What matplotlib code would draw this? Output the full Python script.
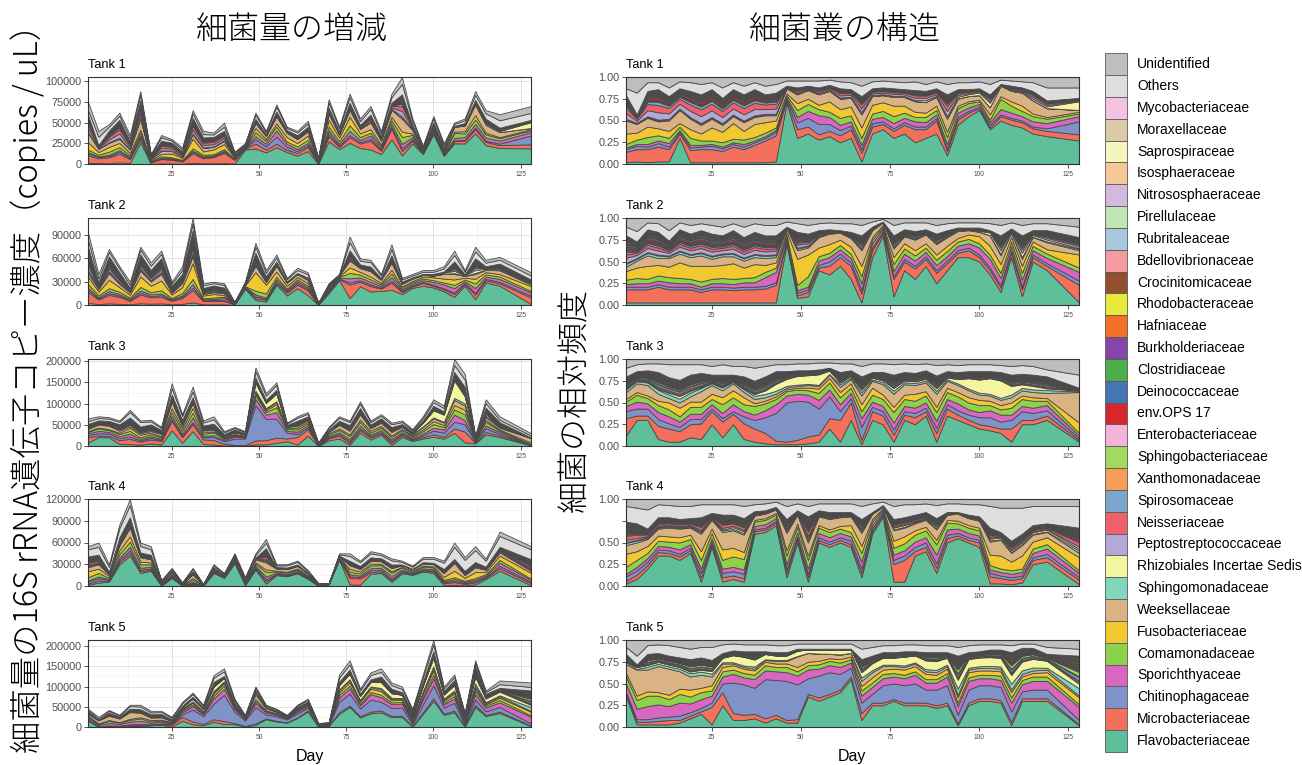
import numpy as np
import matplotlib
matplotlib.use('Agg')
import matplotlib.pyplot as plt
from matplotlib.patches import Rectangle
from matplotlib.ticker import MultipleLocator, FixedLocator

plt.rcParams['font.family'] = ['Liberation Sans', 'DejaVu Sans']
JP = ['Noto Sans CJK JP', 'DejaVu Sans']

# legend order, top to bottom (stacking is the reverse)
FAMILIES = ['Unidentified', 'Others', 'Mycobacteriaceae', 'Moraxellaceae', 'Saprospiraceae',
            'Isosphaeraceae', 'Nitrososphaeraceae', 'Pirellulaceae', 'Rubritaleaceae',
            'Bdellovibrionaceae', 'Crocinitomicaceae', 'Rhodobacteraceae', 'Hafniaceae',
            'Burkholderiaceae', 'Clostridiaceae', 'Deinococcaceae', 'env.OPS 17',
            'Enterobacteriaceae', 'Sphingobacteriaceae', 'Xanthomonadaceae', 'Spirosomaceae',
            'Neisseriaceae', 'Peptostreptococcaceae', 'Rhizobiales Incertae Sedis',
            'Sphingomonadaceae', 'Weeksellaceae', 'Fusobacteriaceae', 'Comamonadaceae',
            'Sporichthyaceae', 'Chitinophagaceae', 'Microbacteriaceae', 'Flavobacteriaceae']
COLORS = ['#BEBEBE', '#DEDEDE', '#F5C2E3', '#DDCBA8', '#F5F6BE', '#F5C895', '#D3B9DE',
          '#C0E6B6', '#A8C8DD', '#F49BA2', '#944F2E', '#E8E83B', '#F56F26', '#8546A8',
          '#4BAE4A', '#4575B4', '#D8262D', '#F5B3D9', '#A3D95E', '#F59C56', '#7BA7CC',
          '#F0606A', '#B3A8D6', '#F4F59E', '#82D6BC', '#D9B384', '#F2C830', '#8ED14B',
          '#D966C0', '#8093C8', '#F2705C', '#5EBF9A']

TANKS = ['Tank 1', 'Tank 2', 'Tank 3', 'Tank 4', 'Tank 5']
DAYS = [1, 4, 7, 10, 13, 16, 19, 22, 25, 28, 31, 34, 37, 40, 43, 46, 49, 52, 55, 58, 61,
        64, 67, 70, 73, 76, 79, 82, 85, 88, 91, 94, 97, 100, 103, 106, 109, 112, 115, 119, 128]

# total 16S copies / uL (thousands), one row per tank
TOTAL = [
    [75, 40, 48, 62, 35, 88, 12, 35, 30, 20, 65, 40, 38, 50, 15, 25, 62, 40, 72, 45, 40, 52, 8, 78, 45, 85, 55, 70, 40, 85, 105, 55, 22, 58, 25, 50, 55, 88, 65, 60, 70],
    [93, 40, 72, 50, 30, 75, 55, 70, 30, 50, 112, 28, 30, 28, 4, 30, 80, 45, 65, 35, 48, 42, 3, 28, 40, 88, 60, 58, 40, 78, 35, 40, 45, 45, 50, 70, 45, 75, 58, 62, 42],
    [65, 70, 68, 60, 85, 60, 62, 45, 148, 75, 140, 60, 70, 35, 45, 35, 185, 125, 150, 55, 70, 80, 8, 45, 70, 60, 105, 60, 75, 55, 60, 40, 70, 110, 95, 205, 170, 25, 110, 70, 30],
    [55, 60, 30, 85, 120, 60, 55, 8, 25, 5, 25, 3, 30, 18, 45, 12, 45, 65, 30, 30, 35, 22, 4, 4, 45, 45, 35, 48, 45, 38, 35, 28, 40, 40, 35, 60, 40, 55, 38, 75, 55],
    [45, 25, 42, 30, 55, 55, 40, 40, 25, 62, 85, 55, 128, 145, 70, 30, 100, 55, 45, 30, 55, 70, 10, 12, 130, 165, 95, 135, 145, 110, 100, 45, 130, 215, 100, 130, 35, 165, 90, 115, 110],
]

# relative abundance (%) of the main families, one row per tank
FLAVO = [
    [2, 3, 2, 3, 3, 30, 2, 2, 2, 2, 2, 2, 2, 2, 3, 70, 30, 35, 28, 32, 25, 30, 3, 35, 40, 30, 35, 25, 30, 35, 10, 45, 55, 62, 40, 50, 45, 42, 35, 32, 27],
    [3, 3, 3, 3, 3, 3, 3, 3, 3, 3, 3, 3, 3, 3, 3, 70, 8, 10, 40, 35, 45, 30, 3, 55, 80, 10, 40, 30, 45, 25, 40, 55, 55, 50, 35, 15, 55, 10, 50, 40, 3],
    [12, 30, 30, 8, 5, 5, 10, 8, 25, 10, 25, 8, 5, 3, 2, 2, 2, 3, 5, 20, 5, 30, 2, 30, 25, 5, 30, 25, 35, 5, 35, 30, 25, 20, 18, 15, 5, 25, 25, 30, 5],
    [3, 8, 20, 35, 35, 30, 38, 5, 45, 5, 8, 5, 60, 62, 70, 10, 50, 5, 50, 45, 50, 45, 10, 60, 80, 5, 5, 35, 40, 15, 50, 55, 50, 45, 3, 3, 2, 4, 25, 28, 2],
    [35, 3, 3, 3, 3, 5, 10, 15, 3, 25, 8, 8, 10, 5, 10, 5, 5, 35, 30, 35, 40, 55, 8, 25, 25, 30, 25, 25, 25, 22, 25, 2, 25, 30, 30, 28, 2, 30, 30, 30, 2],
]
MICRO = [
    [12, 14, 15, 17, 14, 5, 14, 15, 15, 13, 18, 15, 20, 25, 30, 3, 10, 8, 6, 6, 8, 10, 10, 8, 6, 8, 10, 15, 10, 15, 5, 6, 4, 2, 2, 5, 6, 6, 6, 6, 7],
    [15, 15, 15, 18, 15, 15, 15, 12, 15, 15, 14, 15, 15, 16, 20, 3, 3, 5, 3, 10, 10, 15, 10, 8, 3, 20, 10, 12, 8, 12, 8, 5, 8, 5, 5, 5, 5, 8, 5, 5, 20],
    [20, 5, 5, 15, 15, 12, 15, 18, 15, 18, 12, 18, 15, 12, 4, 3, 5, 8, 8, 12, 25, 20, 5, 10, 10, 8, 6, 8, 5, 10, 8, 6, 5, 5, 5, 5, 15, 5, 5, 5, 2],
    [3, 5, 4, 4, 3, 4, 3, 5, 3, 5, 4, 4, 3, 3, 3, 5, 4, 5, 3, 3, 3, 3, 5, 3, 2, 20, 25, 5, 5, 6, 5, 3, 3, 5, 8, 6, 5, 5, 5, 5, 5],
    [3, 3, 3, 4, 5, 3, 3, 3, 20, 15, 8, 6, 5, 5, 4, 3, 4, 3, 4, 3, 3, 3, 8, 3, 3, 2, 3, 3, 3, 3, 3, 2, 3, 3, 3, 3, 4, 3, 3, 3, 1],
]
CHITINO = [
    [3, 4, 3, 4, 3, 2, 3, 3, 4, 3, 3, 3, 3, 3, 4, 2, 8, 10, 12, 8, 6, 4, 4, 4, 3, 3, 3, 3, 3, 3, 3, 3, 2, 2, 3, 2, 2, 2, 2, 3, 15],
    [3, 3, 3, 3, 3, 3, 3, 3, 3, 3, 3, 3, 3, 3, 3, 2, 3, 3, 3, 5, 4, 4, 4, 3, 2, 3, 3, 3, 3, 3, 3, 3, 3, 3, 3, 3, 3, 3, 3, 3, 5],
    [8, 8, 8, 8, 6, 5, 6, 5, 3, 4, 3, 8, 10, 18, 32, 45, 45, 40, 30, 25, 10, 5, 15, 5, 5, 6, 4, 5, 4, 6, 5, 5, 6, 8, 10, 8, 10, 10, 8, 6, 2],
    [5, 5, 4, 3, 3, 3, 3, 5, 3, 5, 5, 5, 2, 2, 2, 4, 3, 4, 3, 3, 3, 4, 5, 3, 2, 5, 5, 5, 5, 5, 4, 3, 3, 3, 4, 3, 3, 3, 3, 4, 3],
    [2, 3, 3, 4, 4, 5, 4, 4, 5, 10, 35, 35, 30, 45, 40, 45, 40, 18, 25, 25, 18, 10, 12, 10, 20, 18, 20, 22, 15, 18, 20, 10, 15, 15, 15, 15, 12, 8, 10, 10, 5],
]
SPORICH = [
    [2, 2, 3, 3, 4, 2, 3, 2, 2, 2, 2, 3, 2, 2, 2, 2, 6, 8, 10, 8, 6, 5, 5, 5, 5, 6, 5, 6, 5, 4, 5, 5, 4, 3, 3, 6, 6, 5, 6, 6, 6],
    [3, 4, 4, 4, 5, 4, 4, 3, 4, 4, 4, 5, 5, 10, 12, 3, 3, 3, 5, 5, 5, 5, 8, 5, 3, 6, 6, 6, 5, 6, 5, 5, 5, 8, 10, 8, 5, 8, 5, 6, 10],
    [6, 8, 6, 8, 8, 6, 6, 6, 5, 6, 8, 6, 6, 8, 10, 8, 8, 8, 10, 8, 8, 6, 10, 6, 6, 8, 6, 6, 6, 8, 6, 8, 6, 6, 8, 8, 6, 6, 6, 6, 3],
    [3, 4, 4, 4, 4, 5, 4, 5, 4, 5, 5, 5, 4, 4, 3, 6, 5, 6, 5, 5, 5, 5, 8, 4, 2, 6, 6, 6, 6, 10, 6, 5, 5, 5, 4, 4, 4, 4, 5, 6, 5],
    [10, 12, 15, 15, 12, 15, 10, 10, 8, 8, 10, 8, 10, 10, 10, 10, 10, 10, 8, 8, 8, 6, 8, 8, 8, 8, 8, 10, 8, 8, 10, 10, 10, 8, 8, 8, 10, 8, 10, 10, 15],
]
COMAMON = [
    [4, 5, 8, 6, 6, 4, 8, 5, 4, 5, 4, 5, 4, 4, 3, 2, 8, 8, 7, 6, 8, 7, 8, 6, 7, 8, 6, 5, 6, 5, 8, 5, 5, 3, 3, 12, 8, 6, 6, 5, 3],
    [5, 6, 5, 6, 6, 6, 5, 6, 5, 6, 6, 5, 6, 6, 5, 3, 6, 12, 5, 5, 5, 5, 8, 4, 2, 8, 6, 6, 5, 6, 6, 5, 5, 5, 5, 6, 5, 8, 5, 5, 5],
    [5, 8, 6, 8, 8, 6, 8, 8, 6, 10, 8, 8, 10, 8, 6, 5, 5, 5, 8, 8, 8, 6, 8, 8, 8, 12, 8, 8, 8, 10, 8, 8, 8, 8, 6, 6, 8, 8, 8, 5, 3],
    [8, 8, 6, 6, 6, 8, 6, 10, 6, 10, 12, 12, 5, 5, 4, 10, 6, 10, 6, 6, 5, 5, 10, 4, 2, 8, 8, 8, 8, 12, 8, 6, 6, 6, 5, 4, 4, 4, 5, 5, 3],
    [8, 10, 12, 10, 8, 10, 8, 8, 6, 6, 5, 5, 5, 6, 5, 6, 5, 5, 5, 5, 5, 4, 6, 5, 5, 4, 4, 4, 4, 4, 4, 4, 4, 4, 4, 5, 6, 5, 5, 5, 3],
]
FUSO = [
    [12, 8, 12, 8, 8, 4, 10, 8, 15, 12, 18, 10, 15, 12, 8, 2, 8, 6, 5, 12, 10, 10, 12, 10, 10, 12, 8, 6, 5, 5, 6, 3, 2, 2, 6, 3, 5, 6, 3, 2, 2],
    [10, 12, 15, 12, 12, 18, 15, 18, 15, 15, 18, 12, 15, 8, 6, 3, 30, 25, 10, 10, 6, 8, 12, 3, 2, 8, 6, 6, 5, 6, 6, 4, 5, 8, 10, 10, 5, 8, 5, 5, 15],
    [3, 3, 3, 5, 8, 10, 6, 6, 6, 8, 8, 8, 3, 3, 3, 2, 2, 3, 5, 5, 6, 5, 8, 8, 5, 6, 5, 8, 5, 6, 5, 5, 6, 6, 5, 5, 6, 4, 4, 3, 12],
    [15, 10, 8, 6, 6, 6, 5, 10, 5, 12, 10, 8, 2, 2, 2, 6, 4, 5, 3, 3, 3, 8, 8, 3, 1, 8, 8, 5, 4, 5, 3, 3, 3, 3, 12, 15, 10, 15, 8, 8, 15],
    [4, 5, 5, 4, 5, 6, 8, 5, 6, 5, 5, 5, 5, 4, 4, 4, 5, 4, 4, 3, 4, 3, 5, 6, 5, 5, 6, 6, 6, 5, 5, 6, 6, 5, 5, 5, 6, 4, 4, 5, 8],
]
WEEKSEL = [
    [15, 10, 10, 8, 12, 15, 12, 10, 10, 8, 8, 10, 8, 8, 6, 6, 10, 10, 12, 12, 12, 10, 15, 10, 8, 10, 10, 12, 12, 10, 15, 8, 6, 5, 8, 12, 12, 15, 15, 10, 2],
    [5, 8, 12, 8, 10, 10, 10, 12, 8, 10, 8, 8, 8, 8, 6, 4, 10, 8, 12, 12, 8, 10, 18, 8, 3, 10, 8, 12, 10, 12, 10, 8, 5, 5, 12, 10, 5, 8, 5, 8, 5],
    [8, 10, 12, 8, 5, 6, 6, 12, 10, 8, 8, 6, 5, 4, 3, 2, 2, 3, 3, 4, 6, 5, 10, 8, 12, 15, 12, 10, 10, 15, 8, 8, 8, 6, 6, 6, 6, 6, 6, 6, 35],
    [10, 10, 8, 8, 10, 10, 8, 20, 10, 20, 20, 20, 5, 5, 4, 20, 10, 15, 10, 12, 10, 10, 15, 6, 2, 12, 10, 8, 8, 12, 6, 8, 8, 8, 15, 18, 10, 12, 8, 6, 5],
    [10, 30, 25, 30, 30, 20, 15, 15, 10, 4, 2, 2, 2, 2, 3, 3, 12, 10, 8, 5, 5, 4, 6, 6, 4, 3, 3, 3, 3, 3, 3, 3, 3, 3, 3, 3, 3, 3, 3, 3, 2],
]
RHIZO = [
    [1, 1, 1, 1, 1, 1, 1, 1, 1, 1, 1, 1, 1, 1, 1, 1, 1, 1, 1, 1, 1, 1, 2, 1, 1, 1, 1, 1, 2, 1, 2, 2, 2, 3, 5, 1, 1, 1, 2, 2, 10],
    [1, 1, 1, 1, 1, 1, 1, 1, 1, 1, 1, 1, 1, 1, 1, 1, 1, 1, 1, 1, 1, 1, 1, 1, 1, 1, 1, 1, 1, 1, 1, 1, 1, 1, 3, 4, 2, 5, 2, 2, 1],
    [1, 1, 1, 1, 2, 3, 2, 1, 1, 1, 1, 1, 2, 4, 8, 8, 10, 10, 12, 4, 2, 2, 3, 2, 2, 3, 2, 2, 2, 3, 2, 5, 12, 15, 18, 20, 10, 4, 4, 2, 1],
    [1, 1, 1, 1, 1, 1, 1, 1, 1, 1, 2, 2, 1, 1, 1, 2, 1, 2, 1, 1, 1, 1, 2, 1, 1, 2, 2, 1, 1, 2, 1, 1, 1, 1, 2, 2, 2, 2, 2, 2, 2],
    [1, 2, 2, 2, 2, 2, 2, 2, 3, 5, 8, 10, 8, 6, 5, 5, 6, 4, 4, 5, 5, 4, 6, 8, 8, 8, 10, 8, 10, 10, 8, 10, 10, 10, 10, 10, 10, 10, 10, 8, 5],
]
OTHERS = [
    [8, 25, 10, 8, 10, 8, 10, 12, 8, 12, 8, 10, 8, 10, 10, 6, 8, 6, 8, 6, 8, 8, 12, 8, 8, 8, 8, 10, 8, 8, 12, 8, 8, 8, 12, 5, 6, 7, 10, 15, 12],
    [10, 12, 8, 10, 12, 8, 10, 8, 10, 10, 8, 12, 10, 12, 12, 6, 10, 10, 8, 8, 8, 10, 12, 6, 3, 12, 8, 10, 8, 10, 8, 6, 6, 6, 8, 12, 7, 12, 8, 8, 12],
    [10, 8, 8, 10, 15, 18, 12, 10, 10, 12, 10, 12, 15, 12, 8, 8, 8, 8, 8, 6, 10, 8, 12, 10, 10, 12, 10, 10, 8, 12, 8, 8, 8, 8, 8, 8, 10, 10, 10, 8, 15],
    [18, 18, 22, 15, 14, 15, 14, 15, 10, 12, 12, 14, 8, 8, 6, 15, 8, 12, 8, 10, 10, 10, 15, 10, 4, 15, 15, 12, 10, 15, 10, 10, 12, 14, 25, 28, 38, 30, 22, 20, 25],
    [8, 10, 10, 10, 12, 12, 12, 12, 15, 10, 8, 8, 8, 8, 8, 8, 6, 6, 6, 6, 6, 6, 12, 10, 8, 8, 8, 8, 8, 8, 8, 10, 8, 8, 6, 6, 8, 5, 5, 8, 8],
]
UNIDENT = [
    [13, 18, 6, 6, 12, 5, 6, 8, 6, 12, 6, 10, 6, 10, 8, 4, 4, 4, 4, 3, 5, 6, 10, 5, 4, 5, 6, 5, 8, 5, 8, 6, 6, 5, 8, 3, 4, 5, 6, 12, 12],
    [10, 15, 5, 6, 14, 5, 8, 6, 8, 10, 6, 10, 6, 8, 8, 4, 6, 8, 6, 5, 6, 6, 8, 4, 1, 8, 5, 5, 5, 8, 6, 5, 5, 5, 6, 8, 5, 8, 6, 6, 10],
    [10, 6, 5, 5, 6, 6, 6, 6, 8, 6, 8, 8, 10, 8, 6, 6, 5, 5, 4, 4, 5, 5, 8, 5, 5, 6, 5, 6, 5, 7, 6, 7, 6, 6, 6, 7, 8, 7, 8, 12, 18],
    [8, 10, 12, 6, 7, 8, 8, 6, 6, 6, 6, 8, 6, 5, 3, 8, 5, 8, 5, 5, 5, 5, 8, 5, 3, 8, 6, 6, 5, 7, 5, 5, 6, 6, 8, 10, 10, 10, 8, 8, 8],
    [8, 18, 6, 5, 6, 8, 10, 8, 8, 5, 4, 5, 5, 5, 6, 6, 4, 4, 4, 4, 4, 4, 10, 8, 6, 6, 5, 5, 6, 6, 6, 8, 6, 5, 5, 5, 6, 4, 4, 8, 10],
]

# the minor families share whatever is left, in these per-tank proportions
REST_FAMILIES = ['Sphingomonadaceae', 'Peptostreptococcaceae', 'Neisseriaceae', 'Spirosomaceae',
                 'Xanthomonadaceae', 'Sphingobacteriaceae', 'Enterobacteriaceae', 'env.OPS 17',
                 'Deinococcaceae', 'Clostridiaceae', 'Burkholderiaceae', 'Hafniaceae',
                 'Rhodobacteraceae', 'Crocinitomicaceae', 'Bdellovibrionaceae', 'Rubritaleaceae',
                 'Pirellulaceae', 'Nitrososphaeraceae', 'Isosphaeraceae', 'Saprospiraceae',
                 'Moraxellaceae', 'Mycobacteriaceae']
REST_WEIGHTS = [
    [3, 24, 24, 10, 3, 2, 3, 7, 3, 2, 2, 3, 2, 1, 2, 2, 1, 2, 2, 1, 2, 2],
    [8, 14, 10, 6, 3, 3, 3, 6, 6, 2, 2, 4, 2, 1, 2, 2, 1, 2, 2, 1, 2, 2],
    [16, 4, 6, 8, 3, 6, 3, 4, 3, 3, 5, 2, 2, 2, 2, 2, 2, 2, 2, 2, 2, 3],
    [8, 8, 14, 4, 4, 3, 3, 4, 3, 3, 2, 3, 2, 2, 2, 2, 2, 2, 2, 2, 3, 2],
    [18, 4, 4, 8, 3, 10, 2, 3, 3, 3, 4, 2, 2, 5, 2, 2, 2, 2, 2, 2, 2, 2],
]

LEFT_TICKS = [[0, 25000, 50000, 75000, 100000], [0, 30000, 60000, 90000],
              [0, 50000, 100000, 150000, 200000], [0, 30000, 60000, 90000, 120000],
              [0, 50000, 100000, 150000, 200000]]

TYPED = {'Flavobacteriaceae': FLAVO, 'Microbacteriaceae': MICRO, 'Chitinophagaceae': CHITINO,
         'Sporichthyaceae': SPORICH, 'Comamonadaceae': COMAMON, 'Fusobacteriaceae': FUSO,
         'Weeksellaceae': WEEKSEL, 'Rhizobiales Incertae Sedis': RHIZO,
         'Others': OTHERS, 'Unidentified': UNIDENT}


def composition(k):
    shares = {name: np.array(vals[k], float) for name, vals in TYPED.items()}
    for name, arr in shares.items():
        assert len(arr) == len(DAYS), (name, k, len(arr))
    rest = np.clip(100 - sum(shares.values()), 0, None)
    w = np.array(REST_WEIGHTS[k], float)
    for name, wi in zip(REST_FAMILIES, w):
        shares[name] = rest * wi / w.sum()
    stack = np.array([shares[f] for f in FAMILIES[::-1]])
    return stack / stack.sum(axis=0)


def style_axes(ax):
    ax.set_facecolor('white')
    ax.set_axisbelow(True)
    ax.grid(which='major', color='#E3E3E3', lw=0.7)
    ax.grid(which='minor', color='#F0F0F0', lw=0.5)
    for s in ax.spines.values():
        s.set_color('#333333')
        s.set_linewidth(0.8)
    ax.set_xlim(1, 128)
    ax.set_xticks([25, 50, 75, 100, 125])
    ax.xaxis.set_minor_locator(FixedLocator([12.5, 37.5, 62.5, 87.5, 112.5]))
    ax.tick_params(which='major', length=3, width=0.6, color='#333333', labelcolor='#4D4D4D')
    ax.tick_params(which='minor', length=0)
    ax.tick_params(axis='x', labelsize=4.8, pad=2)
    ax.tick_params(axis='y', labelsize=7.8, pad=1.5)


fig = plt.figure(figsize=(13.02, 7.65), dpi=100)
W, H = 1302, 765
row_tops = [77, 218, 359, 499, 640]
ph = 87
stack_colors = COLORS[::-1]
days = np.array(DAYS, float)

for k, tank in enumerate(TANKS):
    frac = composition(k)
    total = np.array(TOTAL[k], float) * 1000
    bottom = 1 - (row_tops[k] + ph) / H

    # left: absolute copies
    axl = fig.add_axes([88 / W, bottom, 443 / W, ph / H])
    style_axes(axl)
    axl.stackplot(days, frac * total, colors=stack_colors, edgecolor='#4A4A4A', linewidth=0.6)
    axl.set_ylim(0, total.max())
    ticks = LEFT_TICKS[k]
    axl.set_yticks(ticks)
    axl.set_yticklabels([str(t) for t in ticks])
    axl.yaxis.set_minor_locator(MultipleLocator((ticks[1] - ticks[0]) / 2))
    axl.text(0, 1 + 9 / ph, tank, transform=axl.transAxes, ha='left', va='baseline',
             fontsize=9.2, color='black')

    # right: relative abundance
    axr = fig.add_axes([626 / W, bottom, 453 / W, ph / H])
    style_axes(axr)
    axr.stackplot(days, frac, colors=stack_colors, edgecolor='#4A4A4A', linewidth=0.6)
    axr.set_ylim(0, 1)
    axr.set_yticks([0, 0.25, 0.5, 0.75, 1.0])
    labels = ['0.00', '0.25', '0.50', '0.75', '1.00']
    if k == 3:
        labels[3] = ''
    axr.set_yticklabels(labels)
    axr.yaxis.set_minor_locator(MultipleLocator(0.125))
    axr.text(0, 1 + 9 / ph, tank, transform=axr.transAxes, ha='left', va='baseline',
             fontsize=9.2, color='black')

# titles and axis labels
fig.text(292 / W, 1 - 30 / H, '細菌量の増減', ha='center', va='center', fontsize=23,
         family=JP, weight='light')
fig.text(845 / W, 1 - 30 / H, '細菌叢の構造', ha='center', va='center', fontsize=23,
         family=JP, weight='light')
fig.text(28 / W, 1 - 380 / H, '細菌量の16S rRNA遺伝子コピー濃度（copies / uL）', rotation=90,
         ha='center', va='center', fontsize=23.3, family=JP, weight='light')
fig.text(575 / W, 1 - 400 / H, '細菌の相対頻度', rotation=90, ha='center', va='center',
         fontsize=23, family=JP, weight='light')
fig.text(310 / W, 1 - 761 / H, 'Day', ha='center', va='baseline', fontsize=11.5)
fig.text(852 / W, 1 - 761 / H, 'Day', ha='center', va='baseline', fontsize=11.5)

# legend
lg = fig.add_axes([0, 0, 1, 1], zorder=5)
lg.set_xlim(0, W)
lg.set_ylim(H, 0)
lg.axis('off')
pitch = 21.83
for i, (name, col) in enumerate(zip(FAMILIES, COLORS)):
    y0 = 53.3 + i * pitch
    lg.add_patch(Rectangle((1105, y0), 22, pitch, facecolor=col, edgecolor='#595959', lw=0.6))
    lg.text(1137, y0 + pitch / 2, name, ha='left', va='center', fontsize=10, color='black')

fig.savefig('out.png', dpi=100)
